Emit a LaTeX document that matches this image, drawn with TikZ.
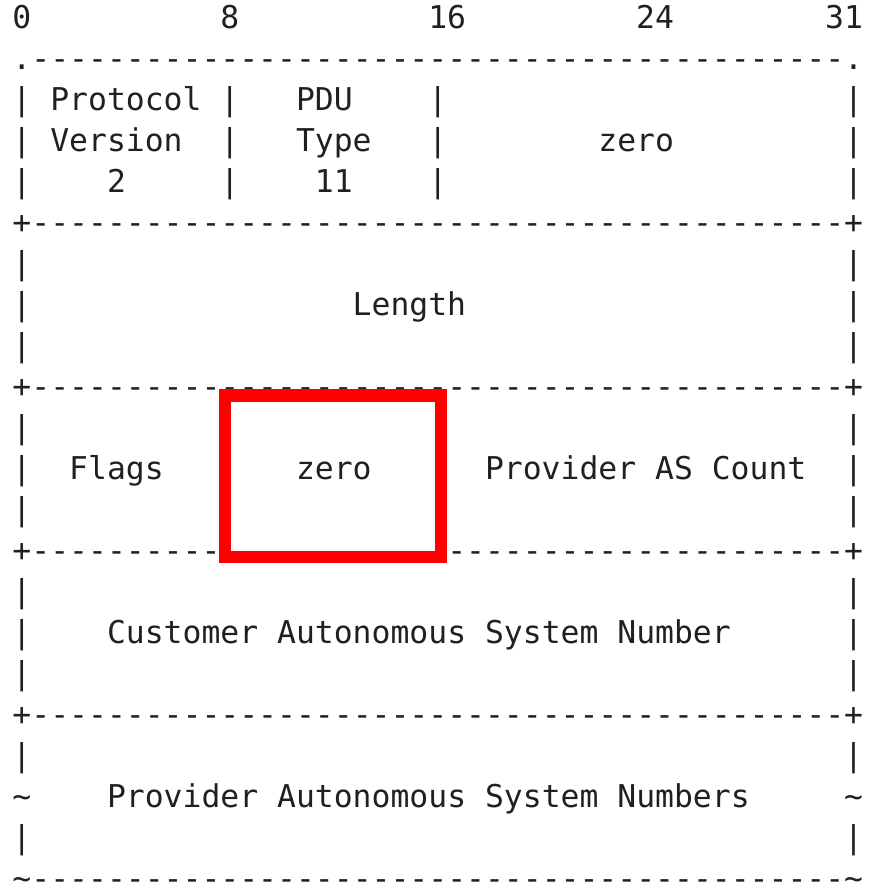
\documentclass[tikz,border=0pt]{standalone}
\usepackage{fontspec}
\setmonofont{DejaVu Sans Mono}
\definecolor{ink}{HTML}{202020}
\definecolor{mark}{HTML}{FF0000}
% one character cell of the ASCII layout: 18.9pt wide, 41pt high
\newcommand\asc[4]{\node[ascii] (#1) at ({12.5+#3*18.9},{28.5+#2*41}) {#4};}
\newcommand\dashrun{-------------------------------------------}
\begin{document}
\begin{tikzpicture}[x=1pt,y=-1pt,
  ascii/.style={anchor=base west, inner sep=0pt, outer sep=0pt,
    font=\ttfamily\fontsize{31.4}{31.4}\selectfont, text=ink},
  markbox/.style={draw=mark, line width=12.5pt, inner sep=0pt, outer sep=0pt}]
\useasboundingbox (0,0) rectangle (871,886);

% bit ruler
\asc{b0}{0}{0}{0}
\asc{b8}{0}{11}{8}
\asc{b16}{0}{22}{16}
\asc{b24}{0}{33}{24}
\asc{b31}{0}{43}{31}

% horizontal separators
\asc{top}{1}{0}{.\dashrun.}
\asc{sepA}{5}{0}{+\dashrun+}
\asc{sepB}{9}{0}{+\dashrun+}
\asc{sepC}{13}{0}{+\dashrun+}
\asc{sepD}{17}{0}{+\dashrun+}
\asc{bottom}{21}{0}{\textasciitilde\dashrun\textasciitilde}

% outer side bars
\foreach \r in {2,3,4,6,7,8,10,11,12,14,15,16,18,20}{
  \asc{l\r}{\r}{0}{|}
  \asc{r\r}{\r}{44}{|}
}
\asc{l19}{19}{0}{\textasciitilde}
\asc{r19}{19}{44}{\textasciitilde}

% first word: version, type, zero
\foreach \r in {2,3,4}{
  \asc{m\r}{\r}{11}{|}
  \asc{n\r}{\r}{22}{|}
}
\asc{proto}{2}{2}{Protocol}
\asc{version}{3}{2}{Version}
\asc{vnum}{4}{5}{2}
\asc{pdu}{2}{15}{PDU}
\asc{type}{3}{15}{Type}
\asc{tnum}{4}{16}{11}
\asc{zeroA}{3}{31}{zero}

% length word
\asc{length}{7}{18}{Length}

% flags word
\asc{flags}{11}{3}{Flags}
\asc{zeroB}{11}{15}{zero}
\asc{count}{11}{25}{Provider AS Count}

% AS numbers
\asc{cust}{15}{5}{Customer Autonomous System Number}
\asc{prov}{19}{5}{Provider Autonomous System Numbers}

% highlight round the reserved field
\node[markbox, minimum width=216pt, minimum height=161.5pt] (hl) at (333,476.25) {};
\end{tikzpicture}
\end{document}
